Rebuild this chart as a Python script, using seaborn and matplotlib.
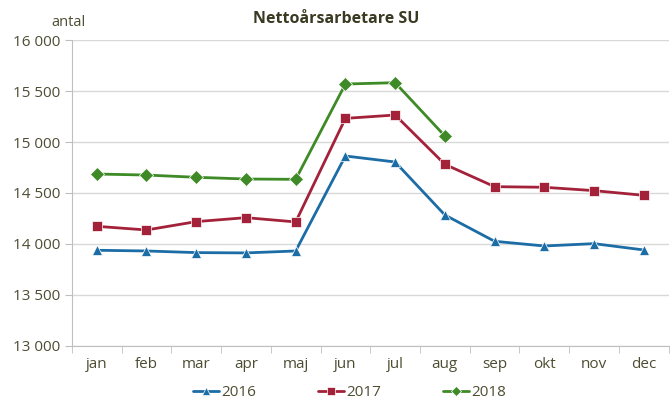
import matplotlib
matplotlib.use('Agg')
import matplotlib.pyplot as plt
import seaborn as sns
import pandas as pd
from matplotlib.ticker import FuncFormatter

months = ['jan', 'feb', 'mar', 'apr', 'maj', 'jun', 'jul', 'aug', 'sep', 'okt', 'nov', 'dec']
y2016 = [13938, 13931, 13915, 13912, 13931, 14863, 14804, 14284, 14026, 13980, 14003, 13941]
y2017 = [14173, 14137, 14219, 14258, 14216, 15232, 15265, 14781, 14562, 14556, 14523, 14477]
y2018 = [14686, 14676, 14654, 14637, 14634, 15569, 15582, 15059]
years = ['2016', '2017', '2018']

rows = []
for year, vals in zip(years, [y2016, y2017, y2018]):
    for i, v in enumerate(vals):
        rows.append({'pos': i, 'month': months[i], 'year': year, 'antal': v})
df = pd.DataFrame(rows)

sns.set_style('white')
plt.rcParams['font.family'] = ['Open Sans', 'DejaVu Sans']
txt = '#4d4d33'
palette = {'2016': '#1c6ca6', '2017': '#a3223a', '2018': '#3e8a27'}
markers = {'2016': '^', '2017': 's', '2018': 'D'}

fig, ax = plt.subplots(figsize=(6.72, 4.05), dpi=100)
plt.subplots_adjust(left=0.107, right=0.995, bottom=0.146, top=0.901)

sns.lineplot(data=df, x='pos', y='antal', hue='year', style='year', markers=markers,
             dashes=False, palette=palette, linewidth=2.0, markersize=7,
             markeredgewidth=0.5, ax=ax)

ax.set_xlim(-0.5, 11.5)
ax.set_ylim(13000, 16000)
ax.set_yticks(range(13000, 16001, 500))
ax.yaxis.set_major_formatter(FuncFormatter(lambda v, p: f'{int(v):,}'.replace(',', ' ')))
ax.set_xticks(range(12))
ax.set_xticklabels(months)
ax.set_xticks([i + 0.5 for i in range(-1, 12)], minor=True)
ax.tick_params(axis='x', which='major', length=0, pad=8, labelsize=11, labelcolor=txt)
ax.tick_params(axis='x', which='minor', length=5, color='#bfbfbf', direction='out', bottom=True)
ax.tick_params(axis='y', length=5, color='#bfbfbf', labelsize=11, labelcolor=txt, left=True)

ax.grid(axis='y', color='#d9d9d9', linewidth=1)
ax.set_axisbelow(True)
for s in ['top', 'right']:
    ax.spines[s].set_visible(False)
for s in ['left', 'bottom']:
    ax.spines[s].set_color('#bfbfbf')
ax.set_xlabel('')
ax.set_ylabel('')

fig.text(0.5, 0.952, 'Nettoårsarbetare SU', ha='center', va='center', fontsize=11.5,
         fontweight='bold', color='#3a3a22')
fig.text(0.077, 0.945, 'antal', ha='left', va='center', fontsize=10.5, color=txt)

handles, labels = ax.get_legend_handles_labels()
leg = ax.legend(handles, labels, loc='center', bbox_to_anchor=(0.52, 0.03), bbox_transform=fig.transFigure,
                ncol=3, frameon=False, fontsize=11, handlelength=1.7, columnspacing=4.0,
                handletextpad=0.2, markerscale=0.75)
for t in leg.get_texts():
    t.set_color(txt)

fig.savefig('out.png', dpi=100)
